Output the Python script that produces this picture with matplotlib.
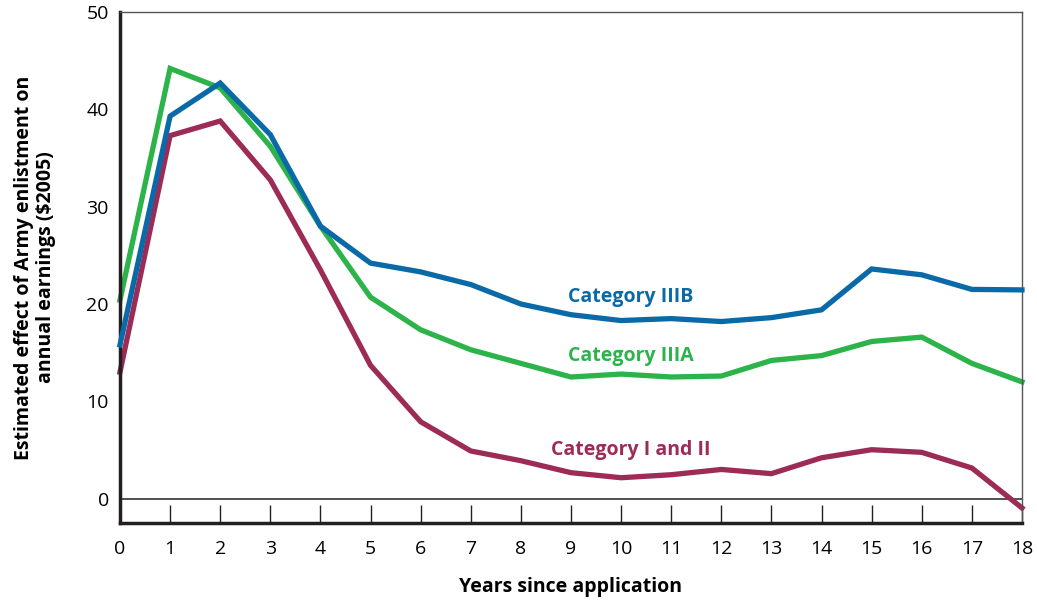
import matplotlib.pyplot as plt

plt.rcParams['font.family'] = ['Open Sans', 'DejaVu Sans']

years = list(range(19))
cat_iiib = [15.8, 39.3, 42.7, 37.4, 28.0, 24.2, 23.3, 22.0, 20.0, 18.9, 18.3,
            18.5, 18.2, 18.6, 19.4, 23.6, 23.0, 21.5, 21.45]
cat_iiia = [20.4, 44.2, 42.2, 36.2, 28.0, 20.7, 17.35, 15.3, 13.9, 12.5, 12.8,
            12.5, 12.6, 14.2, 14.7, 16.15, 16.6, 13.9, 12.0]
cat_i_ii = [13.0, 37.3, 38.8, 32.75, 23.5, 13.7, 7.9, 4.9, 3.9, 2.67, 2.15,
            2.46, 3.0, 2.57, 4.2, 5.03, 4.76, 3.15, -0.95]

blue = "#0a6aa8"
green = "#2cb34a"
maroon = "#9c2b55"

fig = plt.figure(figsize=(10.37, 6.01), dpi=100)
ax = fig.add_axes([0.1157, 0.1298, 0.8698, 0.8502])

ax.plot(years, cat_iiib, color=blue, lw=3.8, solid_joinstyle="miter", clip_on=False, zorder=3)
ax.plot(years, cat_iiia, color=green, lw=3.8, solid_joinstyle="miter", clip_on=False, zorder=2)
ax.plot(years, cat_i_ii, color=maroon, lw=3.8, solid_joinstyle="miter", clip_on=False, zorder=2)

ax.axhline(0, color="#333333", lw=1.2, zorder=1)

ax.text(10.2, 20.7, "Category IIIB", color=blue, fontsize=14, fontweight="bold", ha="center", va="center")
ax.text(10.2, 14.7, "Category IIIA", color=green, fontsize=14, fontweight="bold", ha="center", va="center")
ax.text(10.2, 5.0, "Category I and II", color=maroon, fontsize=14, fontweight="bold", ha="center", va="center")

ax.set_xlim(0, 18)
ax.set_ylim(-2.5, 50)
ax.set_xticks(years)
ax.set_yticks([0, 10, 20, 30, 40, 50])

ax.spines["left"].set_linewidth(2.5)
ax.spines["bottom"].set_linewidth(2.5)
ax.spines["top"].set_linewidth(1.0)
ax.spines["right"].set_linewidth(1.0)
for s in ax.spines.values():
    s.set_color("#231f20")
ax.spines["top"].set_color("#555555")
ax.spines["right"].set_color("#555555")

ax.tick_params(axis="x", direction="in", length=13, width=1.0, color="#231f20",
               labelsize=14, pad=12, top=False)
ax.tick_params(axis="y", direction="in", length=18, width=1.0, color="#231f20",
               labelsize=14, pad=8, right=False)
for t in ax.yaxis.get_major_ticks():
    if t.get_loc() in (0, 50):
        t.tick1line.set_visible(False)

ax.set_xlabel("Years since application", fontsize=14, fontweight="bold", labelpad=14)
ax.set_ylabel("Estimated effect of Army enlistment on\nannual earnings ($2005)", fontsize=14,
              fontweight="bold", labelpad=22, linespacing=1.15)

fig.savefig("out.png", dpi=100)
